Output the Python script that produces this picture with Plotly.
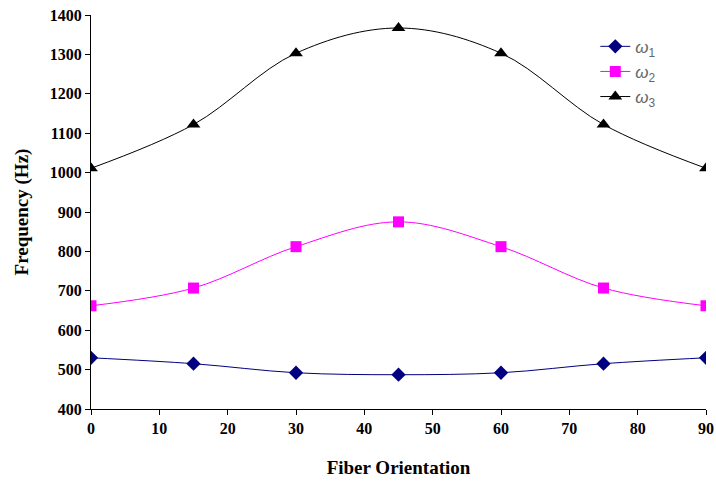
import plotly.graph_objects as go

angles = [0, 15, 30, 45, 60, 75, 90]
omega1 = [530, 515, 492, 487, 492, 515, 530]
omega2 = [662, 707, 812, 875, 812, 707, 662]
omega3 = [1011, 1122, 1303, 1367, 1303, 1122, 1011]

fig = go.Figure()
fig.add_trace(go.Scatter(x=angles, y=omega1, mode="lines+markers", name="<i>ω</i><sub>1</sub>",
                         line=dict(color="#000080", width=1, shape="spline"),
                         marker=dict(symbol="diamond", size=11, color="#000080")))
fig.add_trace(go.Scatter(x=angles, y=omega2, mode="lines+markers", name="<i>ω</i><sub>2</sub>",
                         line=dict(color="#FF00FF", width=1, shape="spline"),
                         marker=dict(symbol="square", size=11, color="#FF00FF")))
fig.add_trace(go.Scatter(x=angles, y=omega3, mode="lines+markers", name="<i>ω</i><sub>3</sub>",
                         line=dict(color="#000000", width=1, shape="spline"),
                         marker=dict(symbol="triangle-up", size=12, color="#000000")))

tickfont = dict(family="Liberation Serif", size=16, color="black", weight=700)
titlefont = dict(family="Liberation Serif", size=19, color="black", weight=700)
fig.update_layout(
    width=716, height=486,
    margin=dict(l=91, r=10, t=15, b=77),
    plot_bgcolor="white", paper_bgcolor="white",
    showlegend=True,
    legend=dict(x=0.82, y=0.965, xanchor="left", yanchor="top",
                bgcolor="rgba(0,0,0,0)", borderwidth=0,
                font=dict(family="Liberation Sans", size=17, color="#666666"),
                tracegroupgap=0, itemwidth=30),
    xaxis=dict(range=[0, 90], tickvals=list(range(0, 91, 10)), showgrid=False,
               showline=True, linecolor="black", linewidth=1, ticks="outside",
               ticklen=5, tickcolor="black", tickfont=tickfont, zeroline=False,
               automargin=False,
               title=dict(text="Fiber Orientation", standoff=24, font=titlefont)),
    yaxis=dict(range=[400, 1400], tickvals=list(range(400, 1401, 100)), showgrid=False,
               showline=True, linecolor="black", linewidth=1, ticks="outside",
               ticklen=5, tickcolor="black", tickfont=tickfont, zeroline=False,
               automargin=False,
               title=dict(text="Frequency (Hz)", standoff=16, font=titlefont)),
)
fig.write_html("out.html")
